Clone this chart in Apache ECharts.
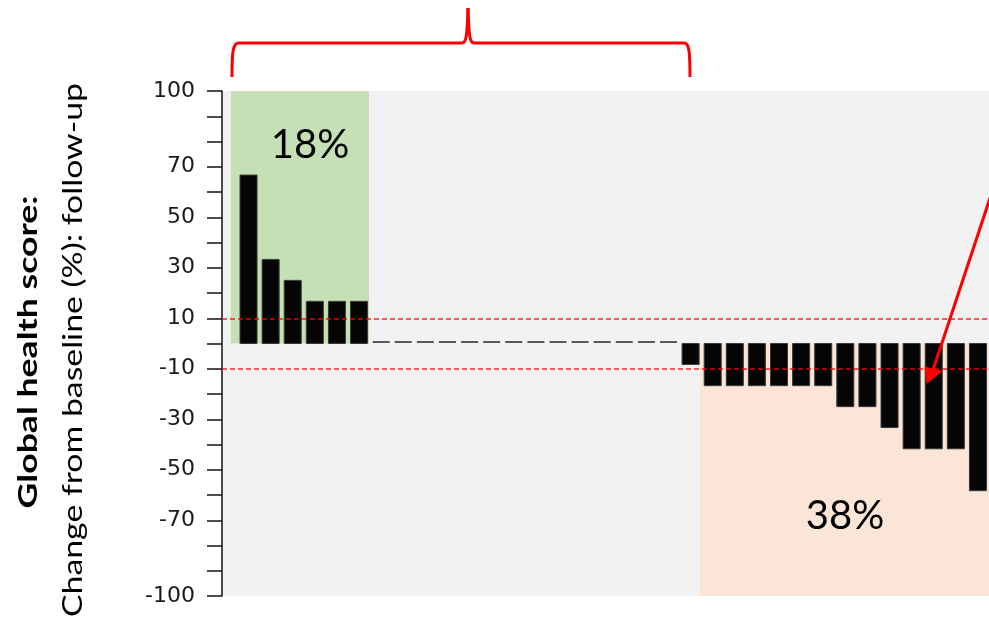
<!DOCTYPE html>
<html>
<head>
<meta charset="utf-8">
<script src="https://cdn.jsdelivr.net/npm/echarts@6/dist/echarts.min.js"></script>
<style>
html,body{margin:0;padding:0;background:#ffffff;}
#chart{width:989px;height:619px;}
</style>
</head>
<body>
<div id="chart"></div>
<script>
// ---- data ----
const patients = [1,2,3,4,5,6,7,8,9,10,11,12,13,14,15,16,17,18,19,20,21,22,23,24,25,26,27,28,29,30,31,32,33,34];
const changeValues = [66.7, 33.3, 25, 16.7, 16.7, 16.7,
  0, 0, 0, 0, 0, 0, 0, 0, 0, 0, 0, 0, 0, 0,
  -8.3, -16.7, -16.7, -16.7, -16.7, -16.7, -16.7, -25, -25, -33.3, -41.7, -41.7, -41.7, -58.3];
const yTickLabels = [100, 70, 50, 30, 10, -10, -30, -50, -70, -100];
const thresholds = [10, -10];
const axisTitleBold = 'Global health score:';
const axisTitleNormal = 'Change from baseline (%): follow-up';

// ---- derived ----
const seriesData = changeValues.map((v, i) => [i, v]);
const improvedIdx = changeValues.map((v, i) => v >= thresholds[0] ? i : -1).filter(i => i >= 0);
const worsenedIdx = changeValues.map((v, i) => v <= thresholds[1] ? i : -1).filter(i => i >= 0);
const pct = n => Math.round(100 * n / patients.length) + '%';
const lastImproved = improvedIdx[improvedIdx.length - 1];
const firstWorsened = worsenedIdx[0];

// measure text to stretch axis title like the original
function measure(font, text) {
  const c = document.createElement('canvas').getContext('2d');
  c.font = font;
  return c.measureText(text).width;
}
const titleFont = 'Lato';
const boldW = measure('bold 26px ' + titleFont, axisTitleBold);
const normW = measure('26px ' + titleFont, axisTitleNormal);

const chart = echarts.init(document.getElementById('chart'), null, {renderer: 'canvas'});

const red = '#ff0000';
const braceStyle = {stroke: red, lineWidth: 3, fill: null};
function bez(x1, y1, cx1, cy1, cx2, cy2, x2, y2) {
  return {type: 'bezierCurve', z: 10, shape: {x1, y1, cpx1: cx1, cpy1: cy1, cpx2: cx2, cpy2: cy2, x2, y2}, style: braceStyle};
}
function seg(x1, y1, x2, y2) {
  return {type: 'line', z: 10, shape: {x1, y1, x2, y2}, style: braceStyle};
}

const option = {
  animation: false,
  backgroundColor: '#ffffff',
  grid: {
    left: 222, right: 0, top: 91, bottom: 23,
    show: true, backgroundColor: '#f2f2f2', borderWidth: 0
  },
  xAxis: {
    type: 'value', min: -1.2, max: 33.5, show: false
  },
  yAxis: {
    type: 'value', min: -100, max: 100, interval: 10,
    axisLine: {show: true, onZero: false, lineStyle: {color: '#1f1f1f', width: 1.6}},
    axisTick: {show: true, length: 15, lineStyle: {color: '#1f1f1f', width: 1.6}},
    splitLine: {show: false},
    axisLabel: {
      margin: 27,
      color: '#1a1a1a',
      fontFamily: 'DejaVu Sans',
      fontSize: 22,
      formatter: v => yTickLabels.indexOf(v) >= 0 ? String(v) : ''
    }
  },
  series: [
    {
      type: 'line', data: [], z: 1, silent: true,
      markArea: {
        silent: true,
        label: {show: false},
        data: [
          [{xAxis: -0.8, yAxis: 100, itemStyle: {color: '#c5e0b4'}}, {xAxis: lastImproved + 0.45, yAxis: 0}],
          [{xAxis: firstWorsened - 0.57, yAxis: 0, itemStyle: {color: '#fbe5d6'}}, {xAxis: 33.5, yAxis: -100}]
        ]
      }
    },
    {
      type: 'custom', z: 3, silent: true,
      data: seriesData,
      encode: {x: 0, y: 1},
      renderItem: function (params, api) {
        const x = api.value(0), v = api.value(1);
        const p0 = api.coord([x, 0]);
        const p1 = api.coord([x, v]);
        const w = api.size([1, 0])[0] * 0.77;
        if (v === 0) {
          return {
            type: 'line',
            shape: {x1: p0[0] - w / 2, y1: p0[1] - 1.5, x2: p0[0] + w / 2, y2: p0[1] - 1.5},
            style: {stroke: '#595959', lineWidth: 2}
          };
        }
        return {
          type: 'rect',
          shape: {x: p0[0] - w / 2, y: Math.min(p0[1], p1[1]), width: w, height: Math.abs(p1[1] - p0[1])},
          style: {fill: '#050505', stroke: '#3a3a3a', lineWidth: 1}
        };
      }
    },
    {
      type: 'line', data: [], z: 5, silent: true,
      markLine: {
        silent: true, symbol: 'none', label: {show: false},
        lineStyle: {color: 'rgba(255,0,0,0.65)', type: [5, 3], width: 2},
        data: thresholds.map(t => ({yAxis: t}))
      }
    }
  ],
  graphic: [
    {
      type: 'text', x: 310, y: 145, z: 10,
      style: {text: pct(improvedIdx.length), fontFamily: 'Lato', fontSize: 40, fill: '#000',
        align: 'center', verticalAlign: 'middle', textAlign: 'center', textVerticalAlign: 'middle'}
    },
    {
      type: 'text', x: 845, y: 516, z: 10,
      style: {text: pct(worsenedIdx.length), fontFamily: 'Lato', fontSize: 40, fill: '#000',
        align: 'center', verticalAlign: 'middle', textAlign: 'center', textVerticalAlign: 'middle'}
    },
    {
      type: 'text', x: 29, y: 352, rotation: Math.PI / 2, scaleX: 313 / boldW, z: 10,
      style: {text: axisTitleBold, fontFamily: titleFont, fontWeight: 'bold', fontSize: 26, fill: '#000',
        align: 'center', verticalAlign: 'middle', textAlign: 'center', textVerticalAlign: 'middle'}
    },
    {
      type: 'text', x: 74, y: 350, rotation: Math.PI / 2, scaleX: 534 / normW, z: 10,
      style: {text: axisTitleNormal, fontFamily: titleFont, fontSize: 26, fill: '#000',
        align: 'center', verticalAlign: 'middle', textAlign: 'center', textVerticalAlign: 'middle'}
    },
    bez(232, 77, 232, 50, 233, 43, 239, 43),
    seg(239, 43, 462, 43),
    bez(462, 43, 466, 43, 467, 38, 468, 8),
    bez(468, 8, 469, 38, 470, 43, 474, 43),
    seg(474, 43, 684, 43),
    bez(684, 43, 689, 43, 690, 50, 690, 77),
    {
      type: 'line', z: 10,
      shape: {x1: 996, y1: 180, x2: 933, y2: 370},
      style: {stroke: red, lineWidth: 3}
    },
    {
      type: 'polygon', z: 10,
      shape: {points: [[924.5, 366.5], [942.5, 371], [926.7, 384]]},
      style: {fill: red}
    }
  ]
};
chart.setOption(option);
</script>
</body>
</html>
